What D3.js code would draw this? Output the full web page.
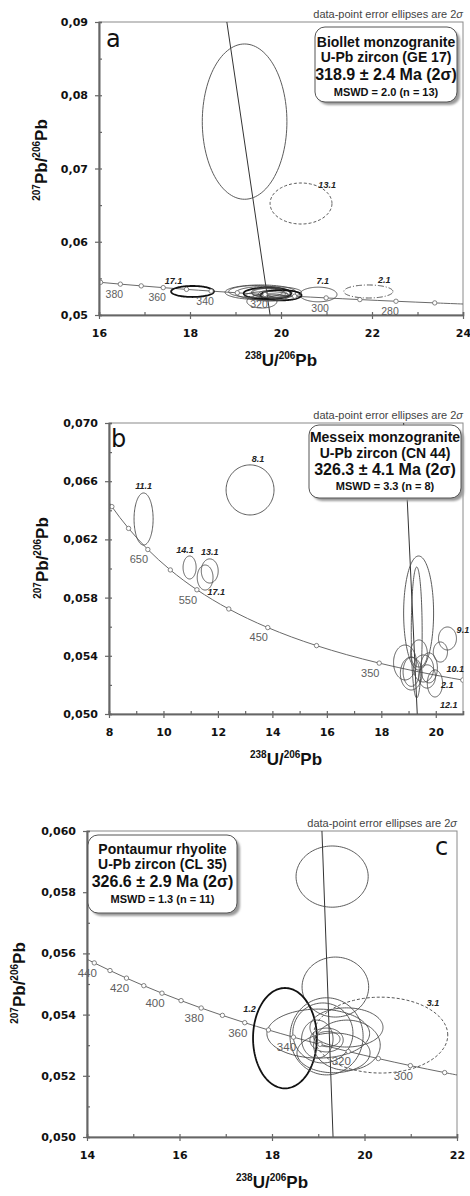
<!DOCTYPE html>
<html>
<head>
<meta charset="utf-8">
<script src="https://cdn.jsdelivr.net/npm/d3@7"></script>
<style>
  body { margin: 0; background: #fff; }
  svg { display: block; }
</style>
</head>
<body>
<div id="chart"></div>
<script>
// ----------------------------
// DATA
// ----------------------------
// concordia points: [age Ma, 238U/206Pb, 207Pb/206Pb]
const concordiaA = [
  [260, 24.297, 0.051427], [270, 23.379, 0.051651], [280, 22.527, 0.051877],
  [290, 21.733, 0.052105], [300, 20.992, 0.052333], [310, 20.299, 0.052563],
  [320, 19.649, 0.052795], [330, 19.039, 0.053028], [340, 18.464, 0.053263],
  [350, 17.923, 0.053498], [360, 17.411, 0.053736], [370, 16.928, 0.053975],
  [380, 16.469, 0.054215], [390, 16.034, 0.054457], [400, 15.621, 0.054700]
];
const concordiaB = [
  [250, 25.289, 0.051204], [300, 20.992, 0.052333], [350, 17.923, 0.053498],
  [400, 15.621, 0.054700], [450, 13.831, 0.055940], [500, 12.399, 0.057219],
  [550, 11.228, 0.058539], [600, 10.252, 0.059901], [650, 9.426, 0.061306],
  [700, 8.718, 0.062756], [750, 8.105, 0.064254], [800, 7.568, 0.065800]
];
const concordiaC = [
  [280, 22.527, 0.051877], [290, 21.733, 0.052105], [300, 20.992, 0.052333],
  [310, 20.299, 0.052563], [320, 19.649, 0.052795], [330, 19.039, 0.053028],
  [340, 18.464, 0.053263], [350, 17.923, 0.053498], [360, 17.411, 0.053736],
  [370, 16.928, 0.053975], [380, 16.469, 0.054215], [390, 16.034, 0.054457],
  [400, 15.621, 0.054700], [410, 15.228, 0.054945], [420, 14.854, 0.055192],
  [430, 14.497, 0.055440], [440, 14.157, 0.055689], [450, 13.831, 0.055940]
];
const ageLabelsA = [380, 360, 340, 320, 300, 280];
const ageLabelsB = [650, 550, 450, 350];
const ageLabelsC = [440, 420, 400, 380, 360, 340, 320, 300];

// spots: [id, 238U/206Pb, 207Pb/206Pb, 2s half-width, 2s half-height, rho, kind]
const spotsA = [
  ["", 19.20, 0.0764, 0.93, 0.0106, 0, ""],
  ["13.1", 20.44, 0.06522, 0.68, 0.0028, 0, "excluded"],
  ["17.1", 18.055, 0.05321, 0.47, 0.00075, 0, "core"],
  ["7.1", 20.82, 0.0528, 0.41, 0.0010, 0, ""],
  ["2.1", 21.92, 0.05321, 0.54, 0.00089, 0, "discordant"],
  ["", 19.55, 0.05310, 0.78, 0.00100, 0, ""],
  ["", 19.62, 0.05300, 0.62, 0.00088, 0, ""],
  ["", 19.70, 0.05295, 0.52, 0.00078, 0, "core"],
  ["", 19.78, 0.05300, 0.42, 0.00066, 0, ""],
  ["", 19.82, 0.05285, 0.32, 0.00056, 0, ""],
  ["", 19.88, 0.05290, 0.22, 0.00045, 0, ""],
  ["", 20.00, 0.05270, 0.45, 0.00070, 0, "core"],
  ["", 19.58, 0.05185, 0.33, 0.00090, 0, ""],
  ["", 19.70, 0.05260, 0.50, 0.00060, 0, ""],
  ["", 19.45, 0.05320, 0.60, 0.00082, 0, ""],
  ["", 19.90, 0.05310, 0.55, 0.00075, 0, ""],
  ["", 19.75, 0.05240, 0.38, 0.00050, 0, ""]
];
const spotsB = [
  ["11.1", 9.27, 0.0634, 0.35, 0.00179, 0, ""],
  ["8.1", 13.18, 0.0654, 0.88, 0.00172, 0, ""],
  ["14.1", 10.96, 0.06007, 0.24, 0.00079, 0, ""],
  ["13.1", 11.70, 0.05983, 0.31, 0.00083, 0, ""],
  ["17.1", 11.53, 0.05938, 0.29, 0.00086, 0, ""],
  ["", 19.37, 0.05694, 0.55, 0.00392, 0, ""],
  ["", 19.30, 0.05560, 0.20, 0.00450, 0, ""],
  ["", 18.87, 0.05354, 0.42, 0.00120, 0, ""],
  ["", 19.38, 0.05416, 0.31, 0.00093, 0, ""],
  ["", 19.10, 0.05278, 0.40, 0.00113, 0, ""],
  ["", 19.75, 0.05317, 0.31, 0.00103, 0, ""],
  ["12.1", 19.97, 0.05210, 0.28, 0.00093, 0, ""],
  ["2.1", 19.68, 0.05258, 0.31, 0.00080, 0, ""],
  ["10.1", 20.17, 0.05426, 0.26, 0.00069, 0, ""],
  ["9.1", 20.43, 0.05519, 0.33, 0.00079, 0, ""],
  ["", 19.10, 0.05290, 0.30, 0.00100, 0, ""],
  ["", 19.55, 0.05313, 0.37, 0.00093, 0, ""]
];
const spotsC = [
  ["", 19.30, 0.05851, 0.78, 0.00100, 0, ""],
  ["", 19.37, 0.05490, 0.72, 0.00098, 0, ""],
  ["1.2", 18.28, 0.05323, 0.69, 0.00164, 0, "core"],
  ["3.1", 20.35, 0.05333, 1.45, 0.00124, 0, "excluded"],
  ["", 19.00, 0.05338, 1.11, 0.00080, 0, ""],
  ["", 19.18, 0.05329, 0.79, 0.00126, 0, ""],
  ["", 19.61, 0.05358, 0.79, 0.00064, 0, ""],
  ["", 19.62, 0.05300, 0.72, 0.00082, 0, ""],
  ["", 19.10, 0.05340, 0.65, 0.00098, 0, ""],
  ["", 19.18, 0.05317, 0.36, 0.00039, 0, ""],
  ["", 18.98, 0.05320, 0.34, 0.00062, 0, ""],
  ["", 19.33, 0.05275, 0.79, 0.00065, 0, ""],
  ["", 19.20, 0.05320, 0.27, 0.00025, 0, ""]
];

// regression lines: two end points [238U/206Pb, 207Pb/206Pb]
const discordiaA = [[18.81, 0.09], [19.76, 0.05]];
const discordiaB = [[18.82, 0.07], [19.32, 0.05]];
const discordiaC = [[19.08, 0.06], [19.32, 0.05]];

// axes
const xTicksA = [16, 18, 20, 22, 24], xMinorA = [17, 19, 21, 23];
const yTicksA = [0.05, 0.06, 0.07, 0.08, 0.09], yMinorA = [0.055, 0.065, 0.075, 0.085];
const xTicksB = [8, 10, 12, 14, 16, 18, 20], xMinorB = [9, 11, 13, 15, 17, 19];
const yTicksB = [0.050, 0.054, 0.058, 0.062, 0.066, 0.070], yMinorB = [0.052, 0.056, 0.060, 0.064, 0.068];
const xTicksC = [14, 16, 18, 20, 22], xMinorC = [15, 17, 19, 21];
const yTicksC = [0.050, 0.052, 0.054, 0.056, 0.058, 0.060], yMinorC = [0.051, 0.053, 0.055, 0.057, 0.059];

// result boxes
const boxTextA = ["Biollet monzogranite", "U-Pb zircon (GE 17)", "318.9 ± 2.4 Ma (2σ)", "MSWD = 2.0 (n = 13)"];
const boxTextB = ["Messeix monzogranite", "U-Pb zircon (CN 44)", "326.3 ± 4.1 Ma (2σ)", "MSWD = 3.3 (n = 8)"];
const boxTextC = ["Pontaumur rhyolite", "U-Pb zircon (CL 35)", "326.6 ± 2.9 Ma (2σ)", "MSWD = 1.3 (n = 11)"];

// ----------------------------
// LAYOUT
// ----------------------------
const panels = [
  { id: "a", left: 99, right: 463, top: 22, bottom: 315, xDomain: [16, 24], yDomain: [0.05, 0.09], dec: 2,
    concordia: concordiaA, ageLabels: ageLabelsA, spots: spotsA, discordia: discordiaA,
    xTicks: xTicksA, xMinor: xMinorA, yTicks: yTicksA, yMinor: yMinorA, ageSize: 10.5,
    box: { x: 315, y: 27, w: 142, h: 75, base: [46.5, 62, 80, 95.5] }, boxText: boxTextA,
    letter: { x: 106, y: 47 }, yTitle: [47, 160], ageDx: -6,
    spotLabels: { "13.1": [45, 6], "17.1": [130, 8], "7.1": [80, 7], "2.1": [60, 7] } },
  { id: "b", left: 109, right: 463, top: 423, bottom: 714, xDomain: [8, 21], yDomain: [0.05, 0.07], dec: 3,
    concordia: concordiaB, ageLabels: ageLabelsB, spots: spotsB, discordia: discordiaB,
    xTicks: xTicksB, xMinor: xMinorB, yTicks: yTicksB, yMinor: yMinorB, ageSize: 11,
    box: { x: 309, y: 425, w: 152, h: 73, base: [441.5, 457.5, 475, 490] }, boxText: boxTextB,
    letter: { x: 111, y: 447 }, yTitle: [48, 558], ageDx: -9,
    spotLabels: { "11.1": [90, 7], "8.1": [75, 7], "14.1": [110, 7], "13.1": [90, 7], "17.1": [-45, 8],
                  "9.1": [25, 8], "10.1": [-45, 14], "2.1": [-20, 13], "12.1": [-50, 14] } },
  { id: "c", left: 87, right: 457, top: 831, bottom: 1137, xDomain: [14, 22], yDomain: [0.05, 0.06], dec: 3,
    concordia: concordiaC, ageLabels: ageLabelsC, spots: spotsC, discordia: discordiaC,
    xTicks: xTicksC, xMinor: xMinorC, yTicks: yTicksC, yMinor: yMinorC, ageSize: 11.5,
    box: { x: 88, y: 835, w: 149, h: 78, base: [854, 868.5, 887, 903] }, boxText: boxTextC,
    letter: { x: 435, y: 855 }, yTitle: [25, 983], ageDx: -7,
    spotLabels: { "1.2": [150, 9], "3.1": [45, 7] } }
];

const svg = d3.select("#chart")
  .append("svg")
  .attr("width", 470)
  .attr("height", 1196);

const defs = svg.append("defs");
defs.append("filter").attr("id", "shadow")
  .attr("x", "-10%").attr("y", "-10%").attr("width", "130%").attr("height", "130%")
  .append("feGaussianBlur").attr("stdDeviation", 1.2);

const locale = d3.formatLocale({ decimal: ",", thousands: ".", grouping: [3], currency: ["", ""] });

const SANS = "'Liberation Sans', Arial, sans-serif";
const NARROW = "'Liberation Sans Narrow', 'Arial Narrow', 'Liberation Sans', sans-serif";
const TICKFONT = "'DejaVu Sans', Verdana, sans-serif";

panels.forEach(drawPanel);

function drawPanel(p) {
  const x = d3.scaleLinear().domain(p.xDomain).range([p.left, p.right]);
  const y = d3.scaleLinear().domain(p.yDomain).range([p.bottom, p.top]);
  const g = svg.append("g");

  const clipId = "clip-" + p.id;
  defs.append("clipPath").attr("id", clipId)
    .append("rect")
    .attr("x", p.left).attr("y", p.top)
    .attr("width", p.right - p.left).attr("height", p.bottom - p.top);

  // frame
  g.append("rect")
    .attr("x", p.left).attr("y", p.top)
    .attr("width", p.right - p.left).attr("height", p.bottom - p.top)
    .attr("fill", "none").attr("stroke", "#8a8a8a").attr("stroke-width", 1);

  const plot = g.append("g").attr("clip-path", `url(#${clipId})`);

  // discordia
  plot.append("line")
    .attr("x1", x(p.discordia[0][0])).attr("y1", y(p.discordia[0][1]))
    .attr("x2", x(p.discordia[1][0])).attr("y2", y(p.discordia[1][1]))
    .attr("stroke", "#333").attr("stroke-width", 1);

  // concordia
  plot.append("path")
    .datum(p.concordia)
    .attr("fill", "none")
    .attr("stroke", "#6a6a6a")
    .attr("stroke-width", 1)
    .attr("d", d3.line().x(d => x(d[1])).y(d => y(d[2])).curve(d3.curveCatmullRom.alpha(0.5)));

  // ellipses
  const ellLine = d3.line().curve(d3.curveLinearClosed);
  const styleOf = k => ({
    excluded:   { stroke: "#555", width: 1, dash: "3,2" },
    discordant: { stroke: "#555", width: 1, dash: "6,2,1,2" },
    core:       { stroke: "#111", width: 1.8, dash: null }
  }[k] || { stroke: "#4a4a4a", width: 0.9, dash: null });

  plot.selectAll(".spot")
    .data(p.spots)
    .join("path")
    .attr("class", "spot")
    .attr("fill", "none")
    .attr("stroke", d => styleOf(d[6]).stroke)
    .attr("stroke-width", d => styleOf(d[6]).width)
    .attr("stroke-dasharray", d => styleOf(d[6]).dash)
    .attr("d", d => ellLine(ellipsePts(d, x, y)));

  // concordia age markers
  plot.selectAll(".tick-age")
    .data(p.concordia)
    .join("circle")
    .attr("class", "tick-age")
    .attr("cx", d => x(d[1]))
    .attr("cy", d => y(d[2]))
    .attr("r", 2.2)
    .attr("fill", "#fff")
    .attr("stroke", "#666")
    .attr("stroke-width", 0.8);

  // age labels
  g.selectAll(".age-label")
    .data(p.concordia.filter(d => p.ageLabels.includes(d[0])))
    .join("text")
    .attr("class", "age-label")
    .attr("x", d => x(d[1]) + p.ageDx)
    .attr("y", d => y(d[2]) + 10)
    .attr("dy", "0.35em")
    .attr("text-anchor", "middle")
    .attr("font-family", SANS)
    .attr("font-size", p.ageSize)
    .attr("fill", "#5e5e5e")
    .text(d => d[0]);

  // spot labels
  g.selectAll(".spot-label")
    .data(p.spots.filter(d => p.spotLabels[d[0]]))
    .join("text")
    .attr("class", "spot-label")
    .attr("transform", d => {
      const [ang, off] = p.spotLabels[d[0]];
      const t = ang * Math.PI / 180;
      const k = Math.sqrt(1 - d[5] * d[5]);
      const px = x(d[1] + d[3] * Math.cos(t));
      const py = y(d[2] + d[4] * (d[5] * Math.cos(t) + k * Math.sin(t)));
      return `translate(${px + off * Math.cos(t)},${py - off * Math.sin(t)})`;
    })
    .attr("dy", "0.35em")
    .attr("text-anchor", "middle")
    .attr("font-family", SANS)
    .attr("font-size", 9)
    .attr("font-weight", "bold")
    .attr("font-style", "italic")
    .attr("fill", "#222")
    .text(d => d[0]);

  // axes
  const fmt = locale.format(`.${p.dec}f`);
  const axisStyle = sel => {
    sel.select(".domain").attr("stroke", "#666").attr("stroke-width", 1.6);
    sel.selectAll(".tick line").attr("stroke", "#666").attr("stroke-width", 1.2);
  };

  // inner ticks (all)
  g.append("g").attr("transform", `translate(0,${p.bottom})`)
    .call(d3.axisBottom(x).tickValues(p.xTicks.concat(p.xMinor)).tickSize(-3).tickFormat(""))
    .call(axisStyle);
  g.append("g").attr("transform", `translate(${p.left},0)`)
    .call(d3.axisLeft(y).tickValues(p.yTicks.concat(p.yMinor)).tickSize(-3).tickFormat(""))
    .call(axisStyle);

  // outer major ticks and labels
  const xa = g.append("g").attr("transform", `translate(0,${p.bottom})`)
    .call(d3.axisBottom(x).tickValues(p.xTicks).tickSizeInner(4).tickSizeOuter(0).tickPadding(10))
    .call(axisStyle);
  const ya = g.append("g").attr("transform", `translate(${p.left},0)`)
    .call(d3.axisLeft(y).tickValues(p.yTicks).tickFormat(fmt).tickSizeInner(4).tickSizeOuter(0).tickPadding(7))
    .call(axisStyle);
  [xa, ya].forEach(a => a.selectAll("text")
    .attr("font-family", TICKFONT)
    .attr("font-weight", "bold")
    .attr("font-size", 11)
    .attr("fill", "#111"));

  // axis titles
  const xt = g.append("text")
    .attr("x", (p.left + p.right) / 2)
    .attr("y", p.bottom + 51)
    .attr("text-anchor", "middle")
    .attr("font-family", SANS)
    .attr("font-weight", "bold")
    .attr("font-size", 17)
    .attr("fill", "#111");
  isoLabel(xt, "238", "U/", "206", "Pb");

  const yt = g.append("text")
    .attr("transform", `translate(${p.yTitle[0]},${p.yTitle[1]}) rotate(-90)`)
    .attr("text-anchor", "middle")
    .attr("font-family", SANS)
    .attr("font-weight", "bold")
    .attr("font-size", 17)
    .attr("fill", "#111");
  isoLabel(yt, "207", "Pb/", "206", "Pb");

  // note above frame
  const note = g.append("text")
    .attr("x", p.right)
    .attr("y", p.top - 4)
    .attr("text-anchor", "end")
    .attr("font-family", NARROW)
    .attr("font-size", 11)
    .attr("fill", "#444")
    .text("data-point error ellipses are 2");
  note.append("tspan").attr("font-style", "italic").text("σ");

  // panel letter
  g.append("text")
    .attr("x", p.letter.x)
    .attr("y", p.letter.y)
    .attr("font-family", "'DejaVu Sans', sans-serif")
    .attr("font-size", 24)
    .attr("fill", "#111")
    .text(p.id);

  // result box
  const b = p.box;
  g.append("rect")
    .attr("x", b.x + 3).attr("y", b.y + 3)
    .attr("width", b.w).attr("height", b.h)
    .attr("rx", 10)
    .attr("fill", "#9a9a9a")
    .attr("filter", "url(#shadow)");
  g.append("rect")
    .attr("x", b.x).attr("y", b.y)
    .attr("width", b.w).attr("height", b.h)
    .attr("rx", 10)
    .attr("fill", "#fff")
    .attr("stroke", "#555")
    .attr("stroke-width", 1);
  const sizes = [14, 14, 16, 11];
  p.boxText.forEach((t, i) => {
    g.append("text")
      .attr("x", b.x + b.w / 2)
      .attr("y", b.base[i])
      .attr("text-anchor", "middle")
      .attr("font-family", NARROW)
      .attr("font-weight", "bold")
      .attr("font-size", sizes[i])
      .attr("fill", "#111")
      .text(t);
  });
}

function ellipsePts(s, x, y) {
  const cx = s[1], cy = s[2], sx = s[3], sy = s[4], rho = s[5];
  const k = Math.sqrt(1 - rho * rho);
  return d3.range(0, 360, 3).map(a => {
    const t = a * Math.PI / 180;
    return [x(cx + sx * Math.cos(t)), y(cy + sy * (rho * Math.cos(t) + k * Math.sin(t)))];
  });
}

function isoLabel(sel, m1, e1, m2, e2) {
  sel.append("tspan").attr("font-size", 10).attr("dy", -7).text(m1);
  sel.append("tspan").attr("dy", 7).text(e1);
  sel.append("tspan").attr("font-size", 10).attr("dy", -7).text(m2);
  sel.append("tspan").attr("dy", 7).text(e2);
}
</script>
</body>
</html>
